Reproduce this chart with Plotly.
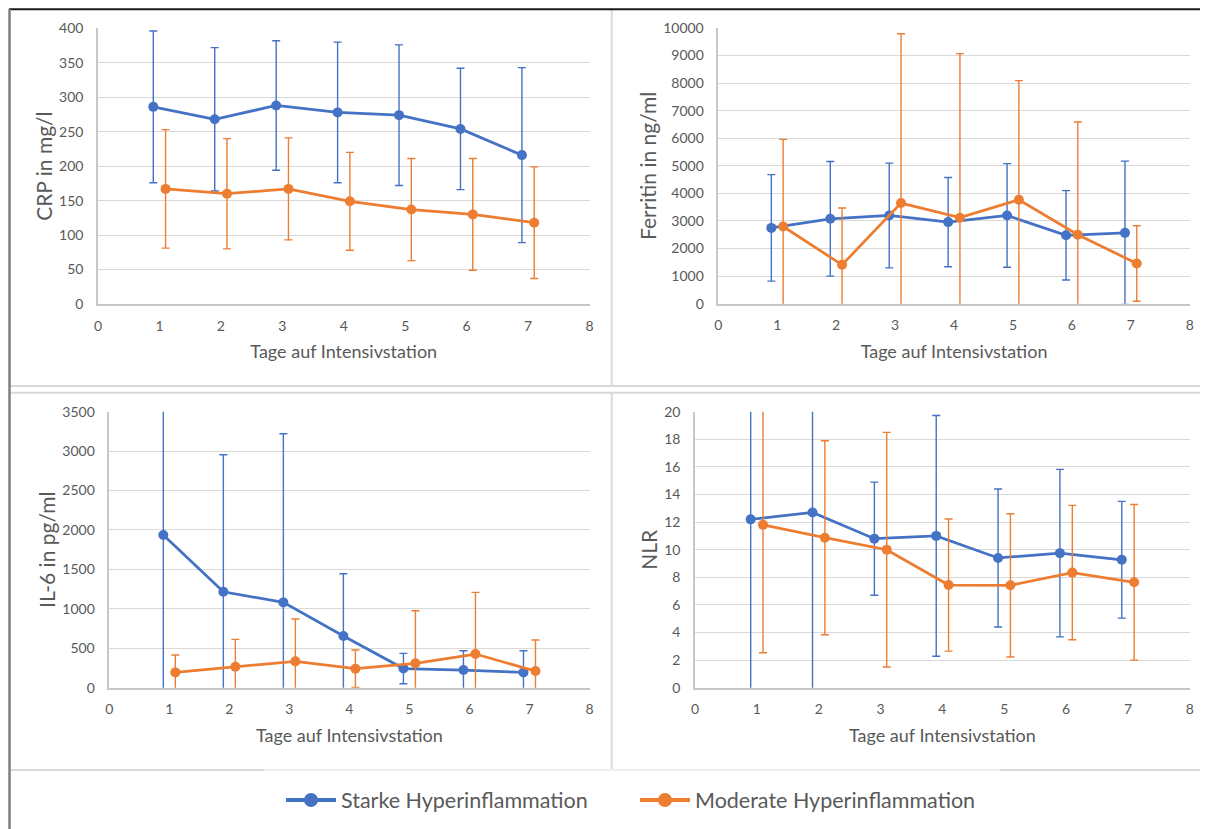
import plotly.graph_objects as go

# ---------------- data ----------------
days = [1, 2, 3, 4, 5, 6, 7]
series_names = ["Starke Hyperinflammation", "Moderate Hyperinflammation"]

crp_starke = [286, 268, 288, 278, 274, 254, 216]
crp_starke_sd = [110, 104, 94, 102, 102, 88, 127]
crp_moderat = [167, 160, 167, 149, 137, 130, 118]
crp_moderat_sd = [86, 80, 74, 71, 74, 81, 81]

ferritin_starke = [2750, 3080, 3200, 2960, 3200, 2480, 2570]
ferritin_starke_sd = [1930, 2080, 1900, 1620, 1880, 1620, 2600]
ferritin_moderat = [2800, 1410, 3650, 3120, 3770, 2500, 1460]
ferritin_moderat_sd = [3160, 2060, 6140, 5950, 4320, 4090, 1370]

il6_starke = [1936, 1217, 1082, 655, 243, 224, 194]
il6_starke_sd = [2000, 1737, 2139, 790, 192, 245, 275]
il6_moderat = [194, 266, 334, 241, 309, 427, 211]
il6_moderat_sd = [220, 347, 537, 237, 667, 782, 393]

nlr_starke = [12.2, 12.7, 10.8, 11.0, 9.4, 9.75, 9.27]
nlr_starke_sd = [13.0, 13.5, 4.1, 8.72, 5.0, 6.07, 4.23]
nlr_moderat = [11.8, 10.87, 10.0, 7.44, 7.42, 8.34, 7.64]
nlr_moderat_sd = [9.27, 7.03, 8.5, 4.79, 5.19, 4.87, 5.64]

x_ticks = [0, 1, 2, 3, 4, 5, 6, 7, 8]
x_title = "Tage auf Intensivstation"
y_titles = ["CRP in mg/l", "Ferritin in ng/ml", "IL-6 in pg/ml", "NLR"]
y_ranges = [(0, 400, 50), (0, 10000, 1000), (0, 3500, 500), (0, 20, 2)]

# ---------------- style ----------------
PAGE_OFF = 8  # browser default body margin
W, H = 1208 - PAGE_OFF, 829 - PAGE_OFF
BLUE = "#4472C4"
ORANGE = "#ED7D31"
FONT = "Lato, Open Sans, sans-serif"
TICK_COLOR = "#595959"
OFFSET = 0.1


def px_x(p):
    return (p - PAGE_OFF) / W


def px_y(p):
    return 1 - (p - PAGE_OFF) / H


# panel plot areas in screen pixels: (x0, x1, ytop, ybottom)
panels = [
    (98, 589.5, 28.3, 304),
    (718.3, 1189.8, 28, 303.7),
    (109.3, 589.5, 411.7, 687.7),
    (695, 1189.8, 411.7, 687.7),
]

data = [
    (crp_starke, crp_starke_sd, crp_moderat, crp_moderat_sd),
    (ferritin_starke, ferritin_starke_sd, ferritin_moderat, ferritin_moderat_sd),
    (il6_starke, il6_starke_sd, il6_moderat, il6_moderat_sd),
    (nlr_starke, nlr_starke_sd, nlr_moderat, nlr_moderat_sd),
]

fig = go.Figure()

for i, (s, s_sd, m, m_sd) in enumerate(data):
    idx = "" if i == 0 else str(i + 1)
    for vals, sd, color, name, off in [
        (s, s_sd, BLUE, series_names[0], -OFFSET),
        (m, m_sd, ORANGE, series_names[1], OFFSET),
    ]:
        fig.add_trace(go.Scatter(
            x=[d + off for d in days],
            y=vals,
            mode="lines+markers",
            name=name,
            legendgroup=name,
            showlegend=False,
            line=dict(color=color, width=2.75),
            marker=dict(color=color, size=10),
            error_y=dict(type="data", array=sd, visible=True,
                         color=color, thickness=1.4, width=4),
            xaxis="x" + idx, yaxis="y" + idx,
        ))

    x0, x1, yt, yb = panels[i]
    ymin, ymax, dt = y_ranges[i]
    fig.update_layout(**{
        "xaxis" + idx: dict(
            domain=[px_x(x0), px_x(x1)], anchor="y" + idx,
            range=[0, 8], tickvals=x_ticks, showgrid=False, zeroline=False,
            showline=True, linecolor="#c8c8c8", linewidth=1.5,
            ticks="", ticklabelstandoff=8,
            tickfont=dict(family=FONT, size=14, color=TICK_COLOR),
            title=dict(text=x_title, standoff=13,
                       font=dict(family=FONT, size=18, color=TICK_COLOR)),
            automargin=False, fixedrange=True,
        ),
        "yaxis" + idx: dict(
            domain=[px_y(yb), px_y(yt)], anchor="x" + idx,
            range=[ymin, ymax], dtick=dt, tickformat="d", showgrid=True,
            gridcolor="#d9d9d9", gridwidth=1.3, zeroline=False,
            showline=True, linecolor="#c8c8c8", linewidth=1.5,
            ticks="", ticklabelstandoff=10,
            tickfont=dict(family=FONT, size=14, color=TICK_COLOR),
            title=dict(text=y_titles[i], standoff=1,
                       font=dict(family=FONT, size=21, color=TICK_COLOR)),
            automargin=False, fixedrange=True,
        ),
    })

# legend entries (no data of their own; styled like the Excel legend keys)
for name, color in [(series_names[0], BLUE), (series_names[1], ORANGE)]:
    fig.add_trace(go.Scatter(
        x=[None], y=[None], mode="lines+markers", name=name,
        legendgroup=name, showlegend=True,
        line=dict(color=color, width=4), marker=dict(color=color, size=14),
        hoverinfo="skip",
    ))

shapes = []


def line(xa, ya, xb, yb, color, width):
    shapes.append(dict(type="line", xref="paper", yref="paper",
                       x0=px_x(xa), y0=px_y(ya), x1=px_x(xb), y1=px_y(yb),
                       line=dict(color=color, width=width), layer="below"))


line(10, 386, 1208, 386, "#d9d9d9", 2)
line(10, 392.7, 1208, 392.7, "#d9d9d9", 2)
line(611.7, 10, 611.7, 386, "#d9d9d9", 2)
line(611.7, 392.7, 611.7, 770, "#d9d9d9", 2)
line(10, 770, 264, 770, "#d9d9d9", 2)
line(264, 770, 1000, 770, "#eeeeee", 2)
line(1000, 770, 1208, 770, "#d9d9d9", 2)
line(9, 9.2, 1208, 9.2, "#1a1a1a", 2)
line(9.5, 9, 9.5, 829, "#7f7f7f", 2.5)

fig.update_layout(
    width=W, height=H,
    margin=dict(l=0, r=0, t=0, b=0),
    paper_bgcolor="white", plot_bgcolor="white",
    font=dict(family=FONT, color=TICK_COLOR),
    shapes=shapes,
    legend=dict(orientation="h", x=px_x(281), xanchor="left",
                y=px_y(800), yanchor="middle",
                entrywidth=289, entrywidthmode="pixels",
                font=dict(family=FONT, size=21.5, color=TICK_COLOR),
                itemwidth=50, tracegroupgap=0),
    showlegend=True,
)

fig.write_html("out.html")
